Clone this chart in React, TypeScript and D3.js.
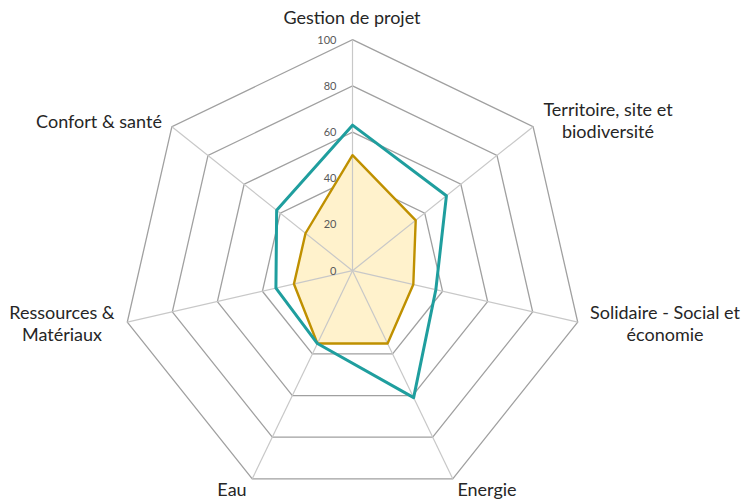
import React, { useMemo } from 'react';
import * as d3 from 'd3';

// axes, clockwise from the top
const categories = [
  ['Gestion de projet'],
  ['Territoire, site et', 'biodiversité'],
  ['Solidaire - Social et', 'économie'],
  ['Energie'],
  ['Eau'],
  ['Ressources &', 'Matériaux'],
  ['Confort & santé'],
];

// two series
const serieTeal = [63, 52, 37, 61, 35, 34, 42];
const serieGold = [50, 35, 27, 35, 35, 26, 26];

const ticks = [0, 20, 40, 60, 80, 100];
const rings = [40, 60, 80, 100];

// label anchors (centre of each label block)
const labelPos = [
  { x: 352, y: 18 },
  { x: 608, y: 110 },
  { x: 665, y: 313 },
  { x: 487, y: 490 },
  { x: 232, y: 490 },
  { x: 62, y: 313 },
  { x: 99, y: 122 },
];

const width = 745;
const height = 499;
const cx = 352.5;
const cy = 270.7;

const App: React.FC = () => {
  const { rScale, angle, goldPath, tealPath, ringPaths } = useMemo(() => {
    const rScale = d3.scaleLinear().domain([0, 100]).range([0, 231]);
    const angle = (i: number) => (i * 2 * Math.PI) / categories.length;

    const radial = d3
      .lineRadial<number>()
      .angle((_, i) => angle(i))
      .radius((d) => rScale(d))
      .curve(d3.curveLinearClosed);

    const goldPath = radial(serieGold) || '';
    const tealPath = radial(serieTeal) || '';
    const ringPaths = rings.map((v) => radial(categories.map(() => v)) || '');
    return { rScale, angle, goldPath, tealPath, ringPaths };
  }, []);

  return (
    <div style={{ position: 'absolute', left: 0, top: 0 }}>
      <svg width={width} height={height} style={{ display: 'block', background: '#fff' }}>
        <g transform={`translate(${cx},${cy})`}>
          {/* rings */}
          {ringPaths.map((d, i) => (
            <path key={`ring-${i}`} d={d} fill="none" stroke="#a0a0a0" strokeWidth={1.3} />
          ))}

          {/* gold filled series, hides the inner rings */}
          <path d={goldPath} fill="#fff2cc" stroke="none" />

          {/* spokes on top of the fill */}
          {categories.map((_, i) => {
            const a = angle(i);
            const r = rScale(100);
            return (
              <line
                key={`spoke-${i}`}
                x1={0}
                y1={0}
                x2={r * Math.sin(a)}
                y2={-r * Math.cos(a)}
                stroke="#c8c8c8"
                strokeWidth={1.2}
              />
            );
          })}

          <path d={goldPath} fill="none" stroke="#bf9000" strokeWidth={2.4} strokeLinejoin="round" />
          <path d={tealPath} fill="none" stroke="#1f9e9e" strokeWidth={3} strokeLinejoin="round" />

          {/* value ticks */}
          <g fontFamily="Lato, 'Open Sans', sans-serif" fontSize={11} fill="#595959">
            {ticks.map((t) => (
              <text key={`tick-${t}`} x={-16} y={-rScale(t)} dy="0.35em" textAnchor="end">
                {t}
              </text>
            ))}
          </g>
        </g>

        {/* category labels */}
        <g fontFamily="Lato, 'Open Sans', sans-serif" fontSize={18} fill="#262626">
          {categories.map((lines, i) => (
            <text key={`cat-${i}`} x={labelPos[i].x} y={labelPos[i].y} textAnchor="middle">
              {lines.map((l, j) => (
                <tspan key={j} x={labelPos[i].x} y={labelPos[i].y + j * 22} dy="0.35em">
                  {l}
                </tspan>
              ))}
            </text>
          ))}
        </g>
      </svg>
    </div>
  );
};

export default App;
